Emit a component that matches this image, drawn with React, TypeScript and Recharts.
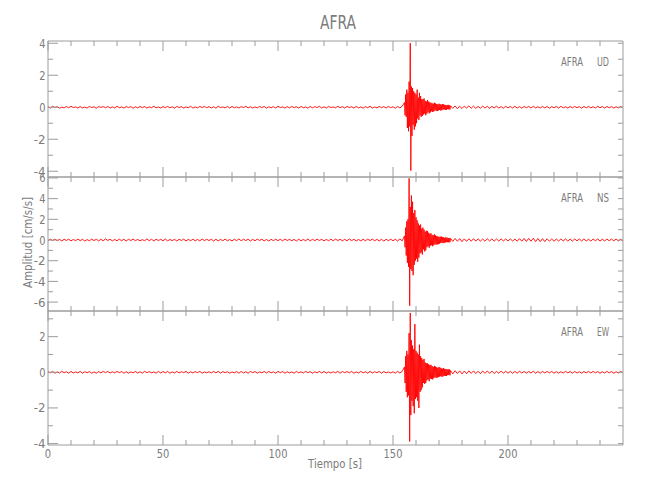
import React from 'react';
import { LineChart, Line, XAxis, YAxis } from 'recharts';

const STATION = 'AFRA';
const X_LABEL = 'Tiempo [s]';
const Y_LABEL = 'Amplitud [cm/s/s]';
const TIME_MAX = 250;
const X_TICKS = [0, 10, 20, 30, 40, 50, 60, 70, 80, 90, 100, 110, 120, 130, 140, 150, 160, 170, 180, 190, 200, 210, 220, 230, 240];
const X_TICK_LABELS = [0, 50, 100, 150, 200];

// record segments: start time and sampling interval (s)
const PRE_START = 0;
const PRE_DT = 1;
const BURST_START = 155;
const BURST_DT = 0.25;
const POST_START = 175;
const POST_DT = 1;

// ---------- UD ----------
const udPre = [
  0.03, -0.05, 0.06, -0.02, 0.04, -0.06, 0.01, -0.04, 0.05, -0.03,
  0.06, -0.02, 0.02, -0.05, 0.04, -0.04, 0.01, -0.05, 0.05, -0.02,
  0.03, -0.06, 0.04, -0.01, 0.04, -0.03, 0.05, -0.05, 0.02, -0.04,
  0.06, -0.03, 0.02, -0.05, 0.04, -0.02, 0.04, -0.06, 0.03, -0.04,
  0.05, -0.02, 0.04, -0.05, 0.02, -0.03, 0.06, -0.04, 0.02, -0.05,
  0.04, -0.02, 0.05, -0.04, 0.03, -0.06, 0.05, -0.02, 0.04, -0.05,
  0.02, -0.03, 0.06, -0.05, 0.02, -0.04, 0.05, -0.02, 0.05, -0.03,
  0.04, -0.05, 0.03, -0.06, 0.06, -0.02, 0.02, -0.04, 0.05, -0.05,
  0.05, -0.03, 0.02, -0.05, 0.04, -0.02, 0.06, -0.04, 0.03, -0.05,
  0.02, -0.04, 0.05, -0.02, 0.05, -0.06, 0.03, -0.03, 0.04, -0.05,
  0.06, -0.02, 0.02, -0.05, 0.04, -0.04, 0.05, -0.02, 0.03, -0.05,
  0.05, -0.03, 0.02, -0.06, 0.05, -0.04, 0.04, -0.02, 0.06, -0.05,
  0.03, -0.05, 0.05, -0.02, 0.02, -0.04, 0.06, -0.03, 0.04, -0.05,
  0.05, -0.02, 0.03, -0.05, 0.05, -0.04, 0.02, -0.06, 0.04, -0.03,
  0.06, -0.05, 0.02, -0.04, 0.05, -0.03, 0.04, -0.05, 0.05, -0.02,
  0.03, -0.06, 0.05, -0.04, 0.06,
];
const udBurst = [
  0.3, -0.5, 0.8, -0.6,
  1.1, -1.3, 0.9, -1.5,
  1.6, -1.2, 4.0, -3.96,
  1.3, -1.8, 1.2, -1.1,
  1.0, -1.4, 0.9, -1.2,
  0.8, -1.0, 1.1, -0.7,
  0.6, -0.8, 0.9, -0.5,
  0.7, -0.6, 0.5, -0.55,
  0.5, -0.45, 0.55, -0.4,
  0.4, -0.5, 0.35, -0.4,
  0.45, -0.3, 0.35, -0.38,
  0.3, -0.32, 0.28, -0.25,
  0.25, -0.3, 0.22, -0.26,
  0.28, -0.2, 0.24, -0.22,
  0.2, -0.24, 0.18, -0.2,
  0.22, -0.17, 0.19, -0.2,
  0.16, -0.19, 0.2, -0.15,
  0.18, -0.14, 0.15, -0.17,
  0.13, -0.16, 0.14, -0.12,
  0.15, -0.13, 0.12, -0.14,
];
const udPost = [
  0.09, -0.07, 0.08, -0.09, 0.06, -0.08, 0.07, -0.05, 0.08, -0.06,
  0.07, -0.07, 0.05, -0.06, 0.07, -0.05, 0.06, -0.07, 0.05, -0.04,
  0.06, -0.05, 0.04, -0.06, 0.06, -0.04, 0.05, -0.05, 0.06, -0.05,
  0.04, -0.06, 0.05, -0.03, 0.05, -0.05, 0.06, -0.04, 0.03, -0.05,
  0.05, -0.04, 0.05, -0.06, 0.04, -0.03, 0.05, -0.05, 0.06, -0.04,
  0.03, -0.05, 0.05, -0.04, 0.05, -0.03, 0.04, -0.06, 0.05, -0.03,
  0.05, -0.04, 0.03, -0.05, 0.06, -0.03, 0.04, -0.05, 0.05, -0.03,
  0.04, -0.05, 0.03, -0.04, 0.05, -0.03,
];

// ---------- NS ----------
const nsPre = [
  -0.06, 0.08, -0.05, 0.09, -0.07, 0.06, -0.09, 0.07, -0.04, 0.08,
  -0.08, 0.05, -0.06, 0.09, -0.06, 0.07, -0.1, 0.04, -0.07, 0.08,
  -0.05, 0.07, -0.08, 0.06, -0.07, 0.1, -0.04, 0.07, -0.09, 0.05,
  -0.07, 0.08, -0.06, 0.07, -0.1, 0.07, -0.05, 0.09, -0.06, 0.06,
  -0.08, 0.04, -0.07, 0.1, -0.06, 0.07, -0.09, 0.08, -0.05, 0.07,
  -0.07, 0.09, -0.08, 0.05, -0.06, 0.07, -0.1, 0.07, -0.04, 0.08,
  -0.09, 0.06, -0.07, 0.08, -0.07, 0.05, -0.08, 0.1, -0.06, 0.07,
  -0.05, 0.07, -0.09, 0.07, -0.08, 0.06, -0.07, 0.09, -0.07, 0.04,
  -0.08, 0.07, -0.06, 0.1, -0.07, 0.08, -0.05, 0.07, -0.09, 0.06,
  -0.07, 0.09, -0.04, 0.07, -0.08, 0.05, -0.1, 0.07, -0.07, 0.08,
  -0.06, 0.07, -0.08, 0.09, -0.05, 0.07, -0.07, 0.06, -0.09, 0.08,
  -0.07, 0.05, -0.07, 0.1, -0.08, 0.07, -0.06, 0.08, -0.04, 0.07,
  -0.09, 0.06, -0.07, 0.08, -0.07, 0.09, -0.05, 0.07, -0.08, 0.06,
  -0.07, 0.1, -0.06, 0.07, -0.09, 0.05, -0.08, 0.07, -0.07, 0.08,
  -0.05, 0.09, -0.07, 0.06, -0.08, 0.07, -0.1, 0.07, -0.06, 0.08,
  -0.07, 0.07, -0.09, 0.1, -0.08,
];
const nsBurst = [
  0.4, -0.7, 1.2, -1.5,
  1.8, -2.2, 2.0, -2.6,
  5.96, -6.35, 3.2, -2.8,
  4.3, -3.0, 3.7, -3.4,
  2.6, -2.4, 2.9, -2.0,
  2.2, -1.8, 1.9, -2.1,
  1.6, -1.7, 1.4, -1.3,
  1.5, -1.2, 1.1, -1.4,
  1.2, -0.9, 1.0, -1.1,
  0.8, -1.0, 0.9, -0.7,
  0.85, -0.6, 0.7, -0.75,
  0.6, -0.55, 0.65, -0.5,
  0.5, -0.6, 0.45, -0.5,
  0.55, -0.4, 0.45, -0.45,
  0.38, -0.42, 0.35, -0.4,
  0.3, -0.35, 0.32, -0.28,
  0.34, -0.26, 0.28, -0.3,
  0.25, -0.28, 0.22, -0.24,
  0.26, -0.2, 0.23, -0.22,
  0.2, -0.23, 0.18, -0.2,
];
const nsPost = [
  0.16, -0.13, 0.15, -0.12, 0.14, -0.16, 0.11, -0.13, 0.12, -0.12,
  0.13, -0.11, 0.12, -0.12, 0.1, -0.12, 0.12, -0.09, 0.11, -0.11,
  0.1, -0.1, 0.11, -0.09, 0.1, -0.1, 0.12, -0.1, 0.09, -0.11,
  0.13, -0.11, 0.15, -0.14, 0.16, -0.12, 0.17, -0.15, 0.14, -0.16,
  0.13, -0.15, 0.12, -0.11, 0.1, -0.12, 0.1, -0.1, 0.11, -0.09,
  0.1, -0.1, 0.09, -0.11, 0.1, -0.08, 0.1, -0.09, 0.1, -0.1,
  0.08, -0.1, 0.09, -0.07, 0.1, -0.09, 0.08, -0.1, 0.09, -0.07,
  0.1, -0.08, 0.09, -0.09, 0.07, -0.08,
];

// ---------- EW ----------
const ewPre = [
  0.04, -0.03, 0.05, -0.05, 0.02, -0.04, 0.05, -0.02, 0.03, -0.05,
  0.05, -0.04, 0.02, -0.03, 0.05, -0.05, 0.03, -0.02, 0.04, -0.05,
  0.02, -0.05, 0.04, -0.03, 0.05, -0.02, 0.05, -0.04, 0.03, -0.03,
  0.05, -0.02, 0.04, -0.05, 0.03, -0.05, 0.02, -0.03, 0.05, -0.04,
  0.03, -0.05, 0.05, -0.02, 0.04, -0.03, 0.02, -0.05, 0.05, -0.04,
  0.04, -0.03, 0.05, -0.05, 0.02, -0.04, 0.05, -0.03, 0.03, -0.02,
  0.05, -0.05, 0.03, -0.04, 0.04, -0.02, 0.05, -0.05, 0.02, -0.03,
  0.03, -0.04, 0.05, -0.03, 0.05, -0.05, 0.04, -0.02, 0.03, -0.05,
  0.02, -0.03, 0.04, -0.05, 0.05, -0.04, 0.03, -0.05, 0.05, -0.02,
  0.04, -0.05, 0.02, -0.03, 0.05, -0.04, 0.05, -0.03, 0.03, -0.05,
  0.05, -0.02, 0.04, -0.05, 0.03, -0.04, 0.02, -0.05, 0.05, -0.03,
  0.03, -0.04, 0.05, -0.02, 0.04, -0.05, 0.03, -0.03, 0.05, -0.04,
  0.05, -0.05, 0.02, -0.04, 0.03, -0.03, 0.05, -0.05, 0.04, -0.02,
  0.04, -0.03, 0.05, -0.05, 0.02, -0.04, 0.05, -0.03, 0.03, -0.05,
  0.05, -0.04, 0.03, -0.02, 0.05, -0.05, 0.04, -0.03, 0.02, -0.04,
  0.03, -0.05, 0.05, -0.04, 0.05,
];
const ewBurst = [
  0.3, -0.6, 0.9, -1.1,
  1.2, -1.4, 1.0, -1.3,
  2.2, -3.88, 3.33, -2.4,
  1.8, -1.6, 1.5, -1.9,
  1.3, -2.3, 2.7, -1.5,
  1.2, -1.4, 1.1, -1.6,
  1.0, -2.0, 1.55, -1.1,
  0.9, -1.0, 0.8, -0.85,
  0.7, -0.6, 0.75, -0.65,
  0.55, -0.6, 0.5, -0.45,
  0.5, -0.4, 0.45, -0.5,
  0.4, -0.35, 0.42, -0.38,
  0.35, -0.4, 0.3, -0.33,
  0.36, -0.28, 0.32, -0.3,
  0.28, -0.3, 0.25, -0.27,
  0.3, -0.24, 0.26, -0.22,
  0.22, -0.25, 0.2, -0.23,
  0.24, -0.2, 0.19, -0.21,
  0.18, -0.2, 0.17, -0.16,
  0.17, -0.15, 0.16, -0.17,
];
const ewPost = [
  0.1, -0.09, 0.09, -0.07, 0.08, -0.09, 0.07, -0.08, 0.08, -0.06,
  0.08, -0.07, 0.06, -0.08, 0.07, -0.05, 0.07, -0.06, 0.07, -0.07,
  0.05, -0.06, 0.07, -0.05, 0.06, -0.05, 0.05, -0.06, 0.05, -0.05,
  0.06, -0.04, 0.05, -0.05, 0.05, -0.04, 0.06, -0.05, 0.04, -0.05,
  0.05, -0.04, 0.05, -0.03, 0.05, -0.05, 0.04, -0.05, 0.03, -0.04,
  0.05, -0.03, 0.04, -0.05, 0.05, -0.04, 0.03, -0.05, 0.04, -0.03,
  0.05, -0.04, 0.05, -0.03, 0.04, -0.05, 0.03, -0.04, 0.05, -0.03,
  0.04, -0.05, 0.03, -0.04, 0.05, -0.03,
];

// y axes
const udYTicks = [-4, -3, -2, -1, 0, 1, 2, 3, 4];
const udYLabels = [-4, -2, 0, 2, 4];
const udDomain = [-4.36, 4.14];
const nsYTicks = [-6, -5, -4, -3, -2, -1, 0, 1, 2, 3, 4, 5, 6];
const nsYLabels = [-6, -4, -2, 0, 2, 4, 6];
const nsDomain = [-6.86, 6.09];
const ewYTicks = [-4, -3, -2, -1, 0, 1, 2, 3];
const ewYLabels = [-4, -2, 0, 2];
const ewDomain = [-4.08, 3.44];

// ---------- styles / layout ----------
const FONT = "'DejaVu Sans', sans-serif";
const TEXT_COLOR = '#7c7c7c';
const AXIS_COLOR = '#9c9c9c';
const TRACE_COLOR = '#ff0000';
const W = 650;
const PLOT_LEFT = 48;
const PLOT_RIGHT = 623;
const M = 40;

function segment(values: number[], start: number, dt: number) {
  return values.map((v, i) => ({ t: start + i * dt, v }));
}
function record(pre: number[], burst: number[], post: number[]) {
  return [
    ...segment(pre, PRE_START, PRE_DT),
    ...segment(burst, BURST_START, BURST_DT),
    ...segment(post, POST_START, POST_DT),
  ];
}

function labelWidth(s: string) {
  let w = 0;
  for (const ch of s) w += ch === '-' ? 5.5 : 6.3;
  return w;
}

const TickText = ({ x, y, anchor, dy, s }: any) => (
  <text
    x={x}
    y={y}
    dy={dy}
    textAnchor={anchor}
    fontSize={12.5}
    fill={TEXT_COLOR}
    fontFamily={FONT}
    textLength={labelWidth(s)}
    lengthAdjust="spacingAndGlyphs"
  >
    {s}
  </text>
);

const XTick = (props: any) => {
  const { x, y, payload, side, labels } = props;
  const v = payload.value;
  const major = X_TICK_LABELS.includes(v);
  const len = major ? 10 : 5;
  const dir = side === 'bottom' ? -1 : 1;
  return (
    <g>
      <line x1={x} y1={y} x2={x} y2={y + dir * len} stroke={AXIS_COLOR} strokeWidth={1} />
      {labels && major ? <TickText x={x} y={y + 12.5} anchor="middle" s={String(v)} /> : null}
    </g>
  );
};

const YTick = (props: any) => {
  const { x, y, payload, side, labels } = props;
  const v = payload.value;
  const major = labels.includes(v);
  const len = side === 'left' ? (major ? 10 : 5) : 5;
  const dir = side === 'left' ? 1 : -1;
  return (
    <g>
      <line x1={x} y1={y} x2={x + dir * len} y2={y} stroke={AXIS_COLOR} strokeWidth={1} />
      {side === 'left' && major ? <TickText x={x - 2.5} y={y} dy="0.36em" anchor="end" s={String(v)} /> : null}
    </g>
  );
};

type PanelProps = {
  data: { t: number; v: number }[];
  domain: number[];
  yTicks: number[];
  yLabels: number[];
  top: number;
  height: number;
  showXLabels: boolean;
};

function Panel({ data, domain, yTicks, yLabels, top, height, showXLabels }: PanelProps) {
  return (
    <div style={{ position: 'absolute', left: 0, top: top - M }}>
      <LineChart width={W} height={height + 2 * M} data={data} margin={{ top: M - 1, right: 0, bottom: M - 1, left: 0 }}>
        <XAxis
          xAxisId="b"
          dataKey="t"
          type="number"
          orientation="bottom"
          domain={[0, TIME_MAX]}
          allowDataOverflow
          ticks={X_TICKS}
          interval={0}
          height={1}
          tickSize={0}
          tickMargin={0}
          tickLine={false}
          axisLine={{ stroke: AXIS_COLOR }}
          tick={(p: any) => <XTick {...p} side="bottom" labels={showXLabels} />}
        />
        <XAxis
          xAxisId="t"
          dataKey="t"
          type="number"
          orientation="top"
          domain={[0, TIME_MAX]}
          allowDataOverflow
          ticks={X_TICKS}
          interval={0}
          height={1}
          tickSize={0}
          tickMargin={0}
          tickLine={false}
          axisLine={{ stroke: AXIS_COLOR }}
          tick={(p: any) => <XTick {...p} side="top" labels={false} />}
        />
        <YAxis
          yAxisId="l"
          type="number"
          orientation="left"
          domain={domain}
          allowDataOverflow
          ticks={yTicks}
          interval={0}
          width={PLOT_LEFT}
          tickSize={0}
          tickMargin={0}
          tickLine={false}
          axisLine={{ stroke: AXIS_COLOR }}
          tick={(p: any) => <YTick {...p} side="left" labels={yLabels} />}
        />
        <YAxis
          yAxisId="r"
          type="number"
          orientation="right"
          domain={domain}
          allowDataOverflow
          ticks={yTicks}
          interval={0}
          width={W - PLOT_RIGHT}
          tickSize={0}
          tickMargin={0}
          tickLine={false}
          axisLine={{ stroke: AXIS_COLOR }}
          tick={(p: any) => <YTick {...p} side="right" labels={yLabels} />}
        />
        <Line
          xAxisId="b"
          yAxisId="l"
          dataKey="v"
          type="linear"
          stroke={TRACE_COLOR}
          strokeWidth={0.9}
          dot={false}
          isAnimationActive={false}
        />
      </LineChart>
    </div>
  );
}

const PANELS = [
  { comp: 'UD', pre: udPre, burst: udBurst, post: udPost, domain: udDomain, yTicks: udYTicks, yLabels: udYLabels, top: 41, height: 136 },
  { comp: 'NS', pre: nsPre, burst: nsBurst, post: nsPost, domain: nsDomain, yTicks: nsYTicks, yLabels: nsYLabels, top: 177, height: 134 },
  { comp: 'EW', pre: ewPre, burst: ewBurst, post: ewPost, domain: ewDomain, yTicks: ewYTicks, yLabels: ewYLabels, top: 311, height: 134 },
];

export default function App() {
  return (
    <div style={{ position: 'absolute', left: 0, top: 0, width: W, height: 500, background: '#fff', overflow: 'hidden' }}>
      {PANELS.map((p, i) => (
        <Panel
          key={p.comp}
          data={record(p.pre, p.burst, p.post)}
          domain={p.domain}
          yTicks={p.yTicks}
          yLabels={p.yLabels}
          top={p.top}
          height={p.height}
          showXLabels={i === PANELS.length - 1}
        />
      ))}
      <svg width={W} height={500} style={{ position: 'absolute', left: 0, top: 0, pointerEvents: 'none' }}>
        <text x={320} y={29} fontSize={19} fill={TEXT_COLOR} fontFamily={FONT} textLength={36} lengthAdjust="spacingAndGlyphs">
          {STATION}
        </text>
        <text x={308} y={468} fontSize={13} fill={TEXT_COLOR} fontFamily={FONT} textLength={54} lengthAdjust="spacingAndGlyphs">
          {X_LABEL}
        </text>
        <text
          x={0}
          y={0}
          transform="translate(32,288) rotate(-90)"
          fontSize={13}
          fill={TEXT_COLOR}
          fontFamily={FONT}
          textLength={91}
          lengthAdjust="spacingAndGlyphs"
        >
          {Y_LABEL}
        </text>
        {PANELS.map((p) => (
          <g key={p.comp}>
            <text x={561} y={p.top + 25} fontSize={12} fill={TEXT_COLOR} fontFamily={FONT} textLength={22} lengthAdjust="spacingAndGlyphs">
              {STATION}
            </text>
            <text x={597} y={p.top + 25} fontSize={12} fill={TEXT_COLOR} fontFamily={FONT} textLength={12} lengthAdjust="spacingAndGlyphs">
              {p.comp}
            </text>
          </g>
        ))}
      </svg>
    </div>
  );
}
